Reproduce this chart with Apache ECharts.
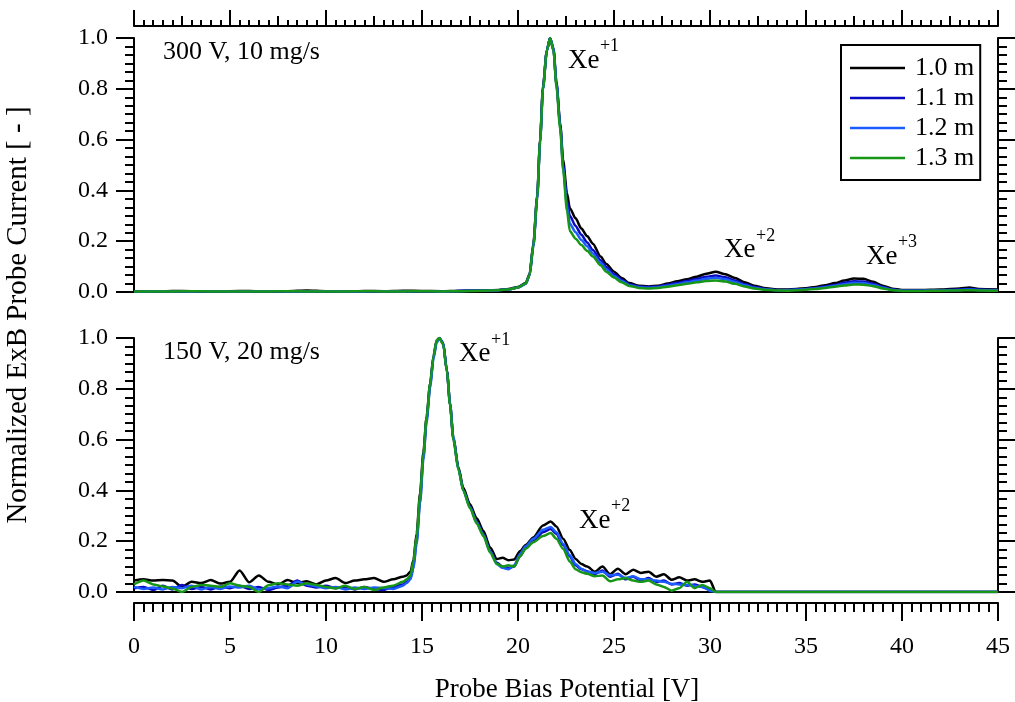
<!DOCTYPE html>
<html>
<head>
<meta charset="utf-8">
<script src="https://cdn.jsdelivr.net/npm/echarts@6/dist/echarts.min.js"></script>
<style>
html,body{margin:0;padding:0;background:#fff;}
#chart{width:1015px;height:702px;}
</style>
</head>
<body>
<div id="chart"></div>
<script>
// ---------------- DATA ----------------
const seriesNames = ['1.0 m', '1.1 m', '1.2 m', '1.3 m'];
const xTicks = [0, 5, 10, 15, 20, 25, 30, 35, 40, 45];
const yTicks = ['0.0', '0.2', '0.4', '0.6', '0.8', '1.0'];

// Top panel: 300 V, 10 mg/s
const xTop = [0,1,2,3,4,5,6,7,8,9,10,11,12,13,14,15,16,17,18,19,
  19.5,20,20.4,20.6,20.8,21.0,21.15,21.3,21.5,21.67,
  21.85,22.0,22.2,22.35,22.55,22.7,
  23.0,23.3,23.6,23.9,
  24.3,24.6,25.0,25.4,25.8,
  26.3,26.8,27.3,27.8,28.3,28.8,29.3,29.8,30.3,30.8,31.3,31.8,32.3,32.8,
  33.5,34,34.5,35,35.5,36,36.5,37,37.5,38,38.5,39,39.5,40,
  41,42,43,43.5,44,45];
const top10 = [0.003,0.002,0.004,0.003,0.002,0.003,0.004,0.002,0.003,0.006,0.003,0.002,0.004,0.003,0.005,0.004,0.003,0.005,0.006,0.008,
  0.012,0.02,0.035,0.07,0.19,0.38,0.6,0.81,0.95,1.0,
  0.95,0.82,0.66,0.52,0.39,0.33,
  0.29,0.25,0.22,0.19,
  0.14,0.11,0.08,0.055,0.035,
  0.025,0.022,0.025,0.033,0.042,0.05,0.06,0.072,0.08,0.07,0.055,0.038,0.025,0.016,
  0.01,0.01,0.012,0.015,0.02,0.027,0.035,0.045,0.053,0.052,0.04,0.025,0.013,0.008,
  0.008,0.01,0.014,0.018,0.012,0.01];
const top11 = [0.002,0.002,0.003,0.002,0.002,0.002,0.003,0.002,0.002,0.003,0.002,0.002,0.003,0.002,0.003,0.003,0.002,0.004,0.005,0.007,
  0.01,0.018,0.032,0.065,0.18,0.37,0.59,0.8,0.95,1.0,
  0.96,0.83,0.66,0.5,0.36,0.3,
  0.26,0.225,0.195,0.165,
  0.125,0.098,0.07,0.048,0.03,
  0.022,0.02,0.022,0.029,0.036,0.043,0.051,0.06,0.065,0.058,0.045,0.031,0.02,0.013,
  0.008,0.008,0.01,0.012,0.016,0.022,0.028,0.036,0.042,0.041,0.032,0.02,0.01,0.006,
  0.006,0.007,0.01,0.012,0.009,0.008];
const top12 = [0.002,0.003,0.002,0.002,0.003,0.002,0.002,0.003,0.002,0.002,0.003,0.002,0.002,0.003,0.002,0.003,0.002,0.004,0.005,0.007,
  0.01,0.018,0.032,0.065,0.18,0.37,0.59,0.8,0.95,1.0,
  0.955,0.82,0.65,0.49,0.34,0.27,
  0.235,0.205,0.18,0.152,
  0.115,0.09,0.063,0.043,0.027,
  0.019,0.017,0.019,0.025,0.031,0.038,0.045,0.052,0.056,0.05,0.039,0.027,0.017,0.011,
  0.007,0.007,0.009,0.011,0.014,0.019,0.025,0.031,0.036,0.035,0.028,0.017,0.009,0.005,
  0.005,0.006,0.008,0.01,0.008,0.007];
const top13 = [0.002,0.002,0.002,0.003,0.002,0.002,0.002,0.002,0.003,0.002,0.002,0.002,0.003,0.002,0.002,0.003,0.002,0.003,0.005,0.007,
  0.01,0.018,0.033,0.066,0.185,0.375,0.595,0.8,0.95,1.0,
  0.95,0.81,0.64,0.48,0.32,0.24,
  0.21,0.185,0.162,0.14,
  0.105,0.08,0.057,0.038,0.024,
  0.016,0.014,0.016,0.021,0.027,0.032,0.038,0.043,0.045,0.041,0.032,0.022,0.014,0.009,
  0.006,0.005,0.007,0.009,0.012,0.016,0.021,0.026,0.03,0.029,0.023,0.014,0.007,0.004,
  0.004,0.005,0.006,0.007,0.006,0.005];

// Bottom panel: 150 V, 20 mg/s
const xBot = [0,0.5,1,1.5,2,2.5,3,3.5,4,4.5,5,5.5,6,6.5,7,7.5,8,8.5,9,9.5,10,10.5,11,11.5,12,12.5,13,13.5,14,
  14.2,14.4,14.55,14.72,14.9,15.07,15.24,15.42,15.6,15.76,15.9,
  16.1,16.3,16.46,16.63,16.9,17.15,17.5,17.85,18.2,18.55,18.9,
  19.2,19.5,19.8,20.1,20.4,20.8,21.3,21.7,22.0,22.35,22.7,
  23.0,23.3,23.6,24.0,24.4,24.8,25.2,25.6,26.0,26.4,26.8,
  27.2,27.6,28.0,28.4,28.8,29.2,29.6,30.0,30.3,31,35,40,45];
const bot10 = [0.045,0.05,0.045,0.047,0.045,0.02,0.04,0.035,0.047,0.033,0.04,0.085,0.038,0.065,0.04,0.03,0.047,0.035,0.042,0.03,0.045,0.055,0.035,0.045,0.05,0.055,0.04,0.05,0.06,
  0.065,0.08,0.125,0.23,0.39,0.55,0.69,0.82,0.93,0.99,1.0,
  0.98,0.87,0.74,0.61,0.49,0.41,0.345,0.29,0.24,0.175,0.13,
  0.135,0.125,0.128,0.16,0.185,0.215,0.262,0.278,0.258,0.21,0.165,
  0.13,0.11,0.1,0.08,0.1,0.07,0.092,0.07,0.088,0.075,0.08,
  0.06,0.07,0.048,0.058,0.045,0.05,0.04,0.045,0,0,0,0,0];
const bot11 = [0.015,0.02,0.008,0.025,0.01,0.028,0.012,0.02,0.01,0.022,0.015,0.025,0.012,0.02,0.008,0.018,0.025,0.045,0.025,0.018,0.025,0.015,0.02,0.01,0.02,0.012,0.008,0.02,0.03,
  0.04,0.055,0.1,0.2,0.36,0.53,0.68,0.81,0.925,0.985,1.0,
  0.98,0.87,0.74,0.605,0.485,0.4,0.335,0.275,0.225,0.16,0.115,
  0.1,0.095,0.1,0.14,0.175,0.2,0.235,0.248,0.228,0.185,0.14,
  0.105,0.09,0.082,0.07,0.085,0.06,0.072,0.05,0.06,0.045,0.055,
  0.04,0.045,0.03,0.035,0.025,0.03,0.02,0.01,0,0,0,0,0];
const bot12 = [0.02,0.012,0.018,0.01,0.02,0.015,0.025,0.01,0.02,0.012,0.022,0.018,0.025,0.01,0.015,0.022,0.015,0.04,0.03,0.022,0.015,0.02,0.01,0.018,0.012,0.018,0.015,0.012,0.025,
  0.035,0.05,0.09,0.19,0.35,0.52,0.67,0.8,0.92,0.98,1.0,
  0.98,0.87,0.745,0.61,0.485,0.4,0.335,0.275,0.225,0.16,0.11,
  0.095,0.09,0.105,0.15,0.18,0.21,0.245,0.256,0.235,0.19,0.145,
  0.11,0.092,0.08,0.075,0.08,0.065,0.068,0.055,0.062,0.05,0.05,
  0.045,0.04,0.032,0.03,0.028,0.025,0.02,0.005,0,0,0,0,0];
const bot13 = [0.03,0.045,0.03,0.022,0.014,0.0,0.02,0.028,0.025,0.02,0.034,0.025,0.02,0.0,0.027,0.034,0.03,0.025,0.034,0.028,0.02,0.014,0.025,0.012,0.02,0.008,0.018,0.025,0.04,
  0.05,0.065,0.12,0.22,0.38,0.54,0.69,0.82,0.93,0.99,1.0,
  0.975,0.865,0.735,0.6,0.48,0.4,0.33,0.27,0.22,0.155,0.11,
  0.1,0.105,0.1,0.14,0.17,0.196,0.22,0.232,0.21,0.17,0.12,
  0.09,0.078,0.072,0.062,0.065,0.042,0.05,0.055,0.045,0.04,0.045,
  0.03,0.02,0.005,0.015,0.04,0.015,0.028,0.015,0,0,0,0,0];

// Annotations (anchored in data coordinates)
const panelLabels = ['300 V, 10 mg/s', '150 V, 20 mg/s'];
const ionLabels = [
  {grid: 0, x: 22.6, y: 0.911, base: 'Xe', sup: '+1'},
  {grid: 0, x: 30.73, y: 0.165, base: 'Xe', sup: '+2'},
  {grid: 0, x: 38.12, y: 0.14, base: 'Xe', sup: '+3'},
  {grid: 1, x: 16.93, y: 0.937, base: 'Xe', sup: '+1'},
  {grid: 1, x: 23.18, y: 0.281, base: 'Xe', sup: '+2'}
];

// ---------------- STYLE ----------------
const FONT = "'Liberation Serif','Times New Roman',serif";
const colors = ['#000000', '#0b0bbf', '#1c5cff', '#179617'];
const axisLine = {show: true, onZero: false, lineStyle: {color: '#000', width: 2}};
const tickLS = {color: '#000', width: 2};
const GL = 134, GW = 864;

function zeroAxis(g) {
  return {gridIndex: g, type: 'value', min: 0, max: 45, position: 'bottom',
    axisLine: axisLine, axisTick: {show: false}, axisLabel: {show: false}, splitLine: {show: false}};
}
function yAx(g, pos, labels) {
  return {gridIndex: g, type: 'value', min: 0, max: 1, interval: 0.2, position: pos,
    axisLine: axisLine,
    axisTick: {show: true, length: 18, lineStyle: tickLS},
    minorTick: {show: true, splitNumber: 6, length: 9, lineStyle: tickLS},
    axisLabel: {show: labels, fontSize: 24, fontFamily: FONT, color: '#000', margin: 26,
      formatter: v => yTicks[Math.round(v / 0.2)]},
    splitLine: {show: false}, minorSplitLine: {show: false}};
}

const chart = echarts.init(document.getElementById('chart'), null, {renderer: 'canvas'});

function mkSeries(xs, ys, i, xi, yi) {
  return {
    name: seriesNames[i], type: 'line', xAxisIndex: xi, yAxisIndex: yi,
    data: xs.map((x, k) => [x, ys[k]]),
    symbol: 'none', showSymbol: false, smooth: 0.25, smoothMonotone: 'x',
    lineStyle: {color: colors[i], width: 2.5}, itemStyle: {color: colors[i]},
    z: 3 + i, animation: false, silent: true
  };
}

const topSets = [top10, top11, top12, top13];
const botSets = [bot10, bot11, bot12, bot13];
const series = [];
topSets.forEach((s, i) => series.push(mkSeries(xTop, s, i, 0, 0)));
botSets.forEach((s, i) => series.push(mkSeries(xBot, s, i, 3, 2)));

const option = {
  backgroundColor: '#fff',
  animation: false,
  grid: [
    {left: GL, width: GW, top: 38, height: 254},
    {left: GL, width: GW, top: 338, height: 254}
  ],
  xAxis: [
    zeroAxis(0),
    {gridIndex: 0, type: 'value', min: 0, max: 45, interval: 5, position: 'top', offset: 12,
      axisLine: axisLine, axisTick: {show: true, length: 16, lineStyle: tickLS},
      minorTick: {show: true, splitNumber: 10, length: 6, lineStyle: tickLS},
      axisLabel: {show: false}, splitLine: {show: false}},
    {gridIndex: 0, type: 'value', min: 0, max: 45, interval: 2.5, position: 'top', offset: 12,
      axisLine: {show: false, onZero: false}, axisTick: {show: true, length: 10, lineStyle: tickLS},
      axisLabel: {show: false}, splitLine: {show: false}},
    zeroAxis(1),
    {gridIndex: 1, type: 'value', min: 0, max: 45, interval: 5, position: 'bottom', offset: 11,
      axisLine: axisLine, axisTick: {show: true, length: 18, lineStyle: tickLS},
      minorTick: {show: true, splitNumber: 10, length: 9, lineStyle: tickLS},
      axisLabel: {show: true, fontSize: 24, fontFamily: FONT, color: '#000', margin: 32,
        formatter: v => String(xTicks[Math.round(v / 5)])},
      splitLine: {show: false}}
  ],
  yAxis: [yAx(0, 'left', true), yAx(0, 'right', false), yAx(1, 'left', true), yAx(1, 'right', false)],
  legend: {
    data: seriesNames, orient: 'vertical', left: 841, top: 45,
    padding: [10, 6, 9, 9], itemGap: 4, itemWidth: 55, itemHeight: 2.5, icon: 'rect',
    borderColor: '#000', borderWidth: 2, backgroundColor: '#fff',
    selectedMode: false,
    textStyle: {fontSize: 26, fontFamily: FONT, color: '#000', lineHeight: 26, padding: [0, 0, 0, 5]}
  },
  series: series
};
chart.setOption(option);

// graphics: titles & annotations
const gfx = [];
gfx.push({type: 'text', x: 18, y: 315, rotation: Math.PI / 2,
  style: {text: 'Normalized ExB Probe Current [ - ]', fontSize: 29, fontFamily: FONT, fill: '#000',
    align: 'center', verticalAlign: 'middle'}});
gfx.push({type: 'text', x: 567, y: 690,
  style: {text: 'Probe Bias Potential [V]', fontSize: 27, fontFamily: FONT, fill: '#000',
    align: 'center', verticalAlign: 'middle'}});
panelLabels.forEach((t, g) => {
  const p = chart.convertToPixel({gridIndex: g}, [1.51, 0.945]);
  gfx.push({type: 'text', x: p[0], y: p[1],
    style: {text: t, fontSize: 26, fontFamily: FONT, fill: '#000', align: 'left', verticalAlign: 'middle'}});
});
ionLabels.forEach(a => {
  const p = chart.convertToPixel({gridIndex: a.grid}, [a.x, a.y]);
  gfx.push({type: 'text', x: p[0], y: p[1],
    style: {text: a.base, fontSize: 27, fontFamily: FONT, fill: '#000', align: 'left', verticalAlign: 'middle'}});
  gfx.push({type: 'text', x: p[0] + 32, y: p[1] - 14,
    style: {text: a.sup, fontSize: 18, fontFamily: FONT, fill: '#000', align: 'left', verticalAlign: 'middle'}});
});
chart.setOption({graphic: gfx});
</script>
</body>
</html>
